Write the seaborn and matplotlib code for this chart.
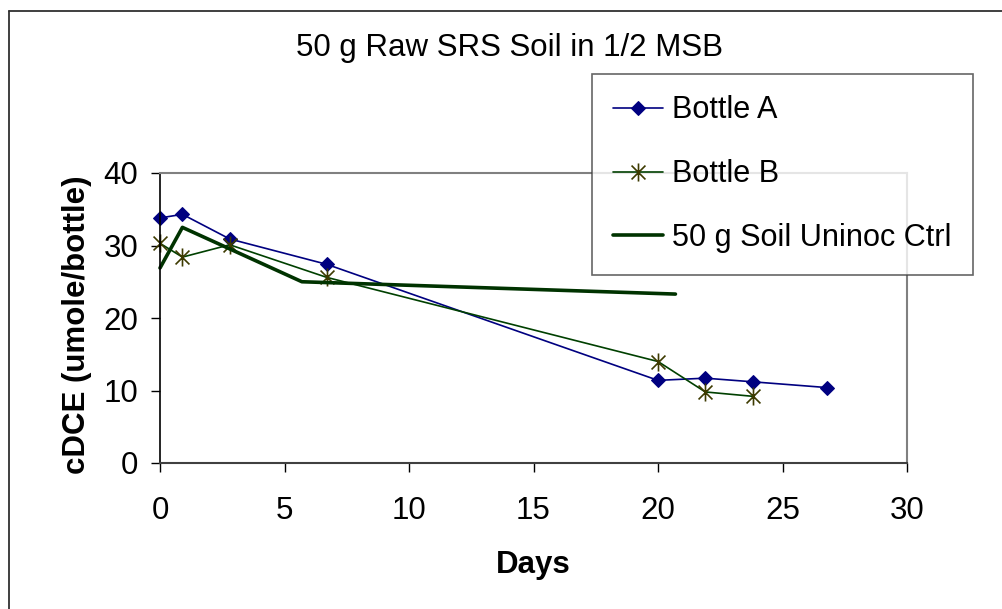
import matplotlib
matplotlib.use("Agg")
import matplotlib.pyplot as plt
from matplotlib.path import Path
from matplotlib.lines import Line2D
import seaborn as sns
import pandas as pd

# datos
dias_a = [0, 0.9, 2.8, 6.7, 20.0, 21.9, 23.8, 26.8]
botella_a = [33.8, 34.3, 30.9, 27.4, 11.4, 11.7, 11.2, 10.4]

dias_b = [0, 0.9, 2.8, 6.7, 20.0, 21.9, 23.8]
botella_b = [30.3, 28.4, 30.1, 25.6, 14.0, 9.8, 9.2]

dias_ctrl = [0, 0.9, 5.7, 20.7]
control = [26.9, 32.5, 25.0, 23.3]

titulo = "50 g Raw SRS Soil in 1/2 MSB"
etiquetas = ["Bottle A", "Bottle B", "50 g Soil Uninoc Ctrl"]

sns.set_style("white")
plt.rcParams['font.family'] = ['Liberation Sans', 'DejaVu Sans']
plt.rcParams['text.color'] = 'black'
plt.rcParams['axes.labelcolor'] = 'black'
plt.rcParams['xtick.color'] = 'black'
plt.rcParams['ytick.color'] = 'black'

tam = 22.5

# marcador tipo asterisco (X + linea vertical)
estrella = Path([(-1, -1), (1, 1), (-1, 1), (1, -1), (0, -1.3), (0, 1.3)],
                [Path.MOVETO, Path.LINETO, Path.MOVETO, Path.LINETO, Path.MOVETO, Path.LINETO])

fig = plt.figure(figsize=(10.02, 6.09), dpi=100)
ax = fig.add_axes([160 / 1002, 1 - 463 / 609, 747 / 1002, 290 / 609])

df_a = pd.DataFrame({"x": dias_a, "y": botella_a})
df_b = pd.DataFrame({"x": dias_b, "y": botella_b})
df_c = pd.DataFrame({"x": dias_ctrl, "y": control})

sns.lineplot(data=df_a, x="x", y="y", ax=ax, color="#000080", linewidth=1.2,
             marker="D", markersize=7, markeredgecolor="#000080", label=etiquetas[0],
             estimator=None, clip_on=False)
sns.lineplot(data=df_b, x="x", y="y", ax=ax, color="#004000", linewidth=1.2,
             marker=estrella, markersize=13, markeredgecolor="#3d3a00", markeredgewidth=1.2,
             label=etiquetas[1], estimator=None, clip_on=False)
sns.lineplot(data=df_c, x="x", y="y", ax=ax, color="#003300", linewidth=2.6,
             label=etiquetas[2], estimator=None, clip_on=False)

ax.set_xlim(0, 30)
ax.set_ylim(0, 40)
ax.set_xticks(range(0, 31, 5))
ax.set_yticks(range(0, 41, 10))
ax.tick_params(axis="both", labelsize=tam, direction="out", length=6.5, width=1,
               color="black", left=True, bottom=True)
ax.tick_params(axis="x", pad=17)
ax.tick_params(axis="y", pad=9)

for lado in ["top", "right"]:
    ax.spines[lado].set_color("#808080")
    ax.spines[lado].set_linewidth(1.5)
ax.spines["left"].set_color("black")
ax.spines["bottom"].set_color("#404040")
ax.spines["left"].set_linewidth(1.2)
ax.spines["bottom"].set_linewidth(1.5)

ax.set_xlabel("Days", fontsize=tam, fontweight="bold")
ax.set_ylabel("cDCE (umole/bottle)", fontsize=tam, fontweight="bold")
ax.xaxis.set_label_coords(0.5, -0.30)
ax.yaxis.set_label_coords(-0.091, 0.476)

fig.text(510 / 1002, 1 - 48 / 609, titulo, fontsize=tam, ha="center", va="center")

leg = ax.legend(loc="upper left", bbox_to_anchor=(592 / 1002, 1 - 74 / 609),
                bbox_transform=fig.transFigure, borderaxespad=0, fontsize=22.1,
                frameon=True, fancybox=False, handlelength=1.6, handletextpad=0.3,
                labelspacing=1.1, borderpad=0.7)
leg.get_frame().set_edgecolor("#404040")
leg.get_frame().set_linewidth(1.2)

# borde exterior del grafico
fig.add_artist(Line2D([8.5 / 1002, 8.5 / 1002], [0, 1 - 11 / 609], color="#303030",
                      linewidth=1.3, transform=fig.transFigure))
fig.add_artist(Line2D([8.5 / 1002, 1], [1 - 11 / 609, 1 - 11 / 609], color="#303030",
                      linewidth=1.3, transform=fig.transFigure))

fig.savefig("out.png", dpi=100)
